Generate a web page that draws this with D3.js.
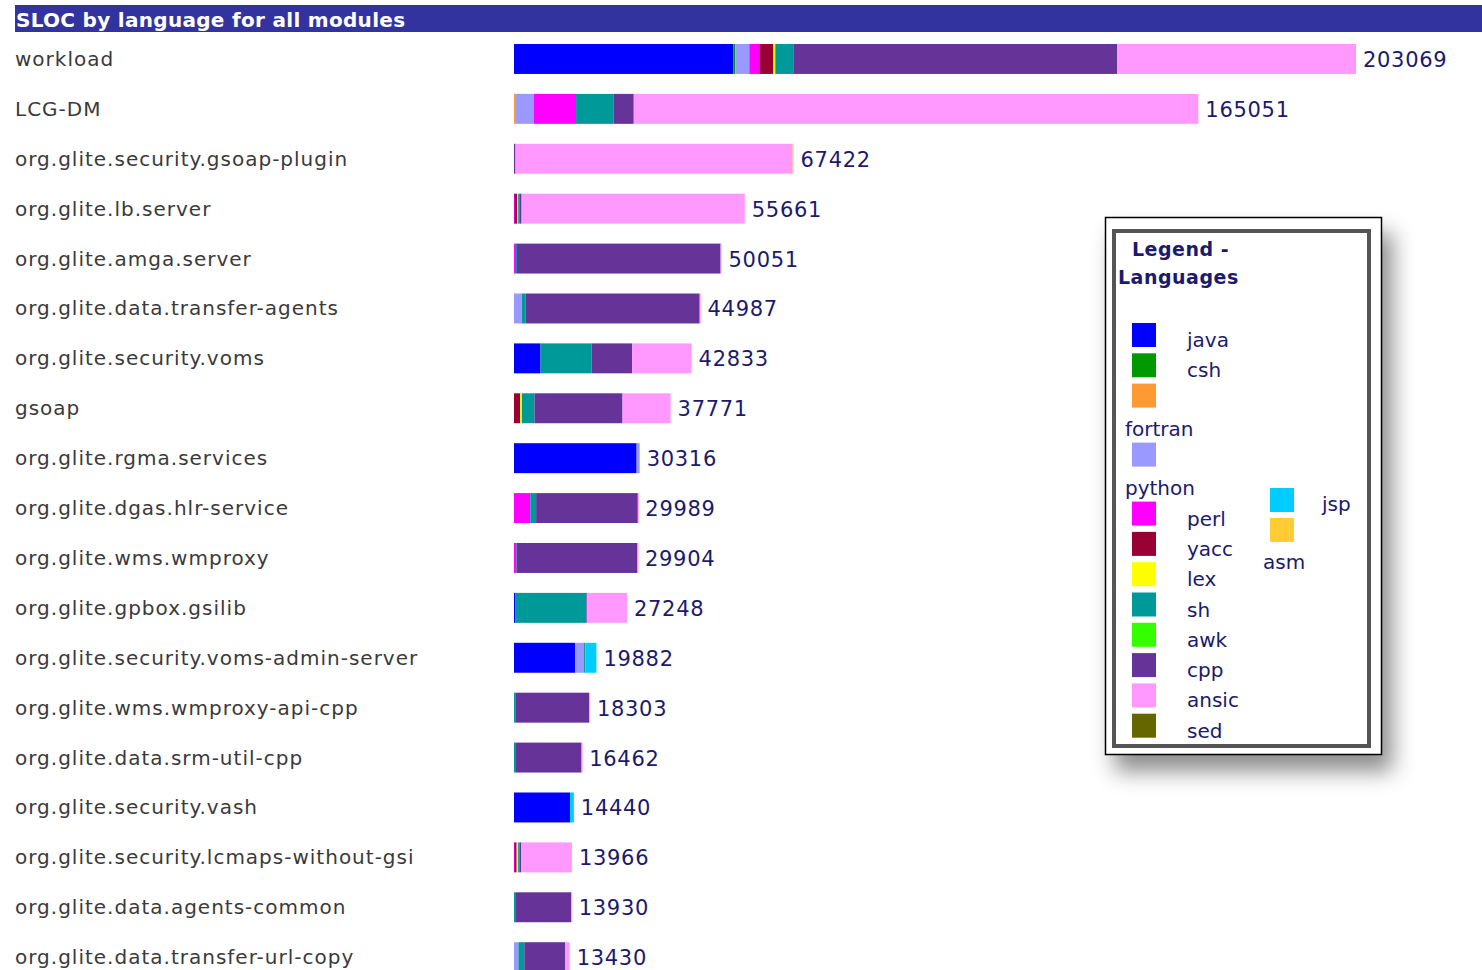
<!DOCTYPE html>
<html>
<head>
<meta charset="utf-8">
<script src="https://cdn.jsdelivr.net/npm/d3@7"></script>
<style>
  body { margin: 0; background: #fff; }
  text { font-family: "DejaVu Sans", Verdana, sans-serif; }
</style>
</head>
<body>
<svg id="chart" width="1482" height="970"></svg>
<script>
var modules = ['workload', 'LCG-DM', 'org.glite.security.gsoap-plugin', 'org.glite.lb.server',
  'org.glite.amga.server', 'org.glite.data.transfer-agents', 'org.glite.security.voms', 'gsoap',
  'org.glite.rgma.services', 'org.glite.dgas.hlr-service', 'org.glite.wms.wmproxy',
  'org.glite.gpbox.gsilib', 'org.glite.security.voms-admin-server', 'org.glite.wms.wmproxy-api-cpp',
  'org.glite.data.srm-util-cpp', 'org.glite.security.vash', 'org.glite.security.lcmaps-without-gsi',
  'org.glite.data.agents-common', 'org.glite.data.transfer-url-copy'];

var languages = ['java', 'csh', 'fortran', 'python', 'perl', 'yacc', 'lex', 'sh', 'awk', 'cpp', 'ansic', 'sed', 'jsp', 'asm'];
var langColors = ['#0000ff', '#009900', '#ff9933', '#9999ff', '#ff00ff', '#990033', '#ffff00',
  '#009999', '#33ff00', '#663399', '#ff99ff', '#666600', '#00ccff', '#ffcc33'];

// SLOC per language, one value per module (same order as modules)
var java    = [52890, 0, 0, 0, 0, 0, 6400, 0, 29577, 0, 0, 366, 14737, 0, 0, 13520, 0, 0, 0];
var csh     = [482, 0, 0, 0, 0, 0, 0, 0, 0, 0, 0, 0, 0, 0, 0, 0, 0, 0, 0];
var fortran = [0, 483, 0, 0, 0, 0, 0, 0, 0, 0, 0, 0, 0, 0, 0, 0, 0, 0, 0];
var python  = [3376, 4343, 0, 0, 0, 1856, 0, 0, 739, 0, 0, 0, 2162, 0, 0, 0, 0, 0, 1070];
var perl    = [2412, 10135, 0, 170, 240, 0, 0, 0, 0, 3933, 245, 0, 0, 0, 0, 0, 160, 0, 0];
var yacc    = [3376, 0, 0, 550, 0, 0, 0, 1481, 0, 0, 0, 0, 0, 0, 0, 0, 480, 0, 0];
var lex     = [482, 0, 0, 290, 0, 0, 0, 420, 0, 0, 0, 0, 0, 0, 0, 0, 360, 0, 0];
var sh      = [4341, 9097, 0, 410, 480, 964, 12310, 3037, 0, 1401, 367, 17073, 323, 320, 490, 0, 400, 480, 1418];
var awk     = [0, 0, 0, 0, 0, 0, 0, 0, 0, 0, 0, 0, 0, 0, 0, 0, 0, 0, 0];
var cpp     = [78067, 4826, 358, 410, 49100, 41967, 9774, 21233, 0, 24530, 29167, 122, 0, 17813, 15802, 0, 360, 13330, 9873];
var ansic   = [57643, 136167, 66825, 53831, 231, 200, 14349, 11600, 0, 125, 125, 9687, 0, 170, 170, 0, 12206, 120, 1069];
var sed     = [0, 0, 0, 0, 0, 0, 0, 0, 0, 0, 0, 0, 0, 0, 0, 0, 0, 0, 0];
var jsp     = [0, 0, 0, 0, 0, 0, 0, 0, 0, 0, 0, 0, 2660, 0, 0, 920, 0, 0, 0];
var asm     = [0, 0, 239, 0, 0, 0, 0, 0, 0, 0, 0, 0, 0, 0, 0, 0, 0, 0, 0];

var series = { java, csh, fortran, python, perl, yacc, lex, sh, awk, cpp, ansic, sed, jsp, asm };

var table = modules.map((m, i) => {
  var row = { module: m };
  languages.forEach(l => { row[l] = series[l][i]; });
  row.total = d3.sum(languages, l => row[l]);
  return row;
});

var svg = d3.select('#chart');

var color = d3.scaleOrdinal().domain(languages).range(langColors);

var x = d3.scaleLinear()
  .domain([0, d3.max(table, d => d.total)])
  .range([514, 1356]);

var y = d3.scaleBand()
  .domain(modules)
  .range([44, 972.14])
  .paddingInner(0.4)
  .paddingOuter(0);

// title bar
svg.append('rect')
  .attr('x', 15).attr('y', 5)
  .attr('width', 1467).attr('height', 27)
  .attr('fill', '#3333a0');
svg.append('text')
  .attr('x', 16).attr('y', 27)
  .attr('fill', '#fff')
  .style('font-weight', 'bold')
  .style('font-size', '20px')
  .style('letter-spacing', '0.3px')
  .text('SLOC by language for all modules');

// module names
svg.append('g').selectAll('text')
  .data(table)
  .enter().append('text')
  .attr('x', 15)
  .attr('y', d => y(d.module) + y.bandwidth() / 2 + 7)
  .attr('fill', '#3a3a3a')
  .style('font-size', '20px')
  .style('letter-spacing', '1px')
  .text(d => d.module);

// stacked bars
var stack = d3.stack().keys(languages);
var layers = svg.append('g').selectAll('g')
  .data(stack(table))
  .enter().append('g')
  .attr('fill', d => color(d.key));

layers.selectAll('rect')
  .data(d => d.filter(s => s[1] > s[0]))
  .enter().append('rect')
  .attr('x', s => x(s[0]))
  .attr('y', s => y(s.data.module))
  .attr('width', s => Math.max(1, x(s[1]) - x(s[0])))
  .attr('height', y.bandwidth());

// totals
svg.append('g').selectAll('text')
  .data(table)
  .enter().append('text')
  .attr('x', d => x(d.total) + 7)
  .attr('y', d => y(d.module) + y.bandwidth() / 2 + 8)
  .attr('fill', '#1a1a6e')
  .style('font-size', '21px')
  .style('letter-spacing', '0.7px')
  .text(d => d.total);

// legend
var defs = svg.append('defs');
var f = defs.append('filter').attr('id', 'shadow')
  .attr('x', '-20%').attr('y', '-20%').attr('width', '150%').attr('height', '150%');
f.append('feDropShadow')
  .attr('dx', 10).attr('dy', 16).attr('stdDeviation', 11)
  .attr('flood-color', '#000').attr('flood-opacity', 0.45);

var lg = svg.append('g');
lg.append('rect')
  .attr('x', 1105.5).attr('y', 217.5).attr('width', 276).attr('height', 537)
  .attr('fill', '#fff').attr('stroke', '#000').attr('stroke-width', 1.5)
  .attr('filter', 'url(#shadow)');
lg.append('rect')
  .attr('x', 1114).attr('y', 231).attr('width', 255).attr('height', 515)
  .attr('fill', '#fff').attr('stroke', '#555').attr('stroke-width', 4);

lg.append('text').attr('x', 1132).attr('y', 256)
  .attr('fill', '#1a1a6e').style('font-weight', 'bold').style('font-size', '19px')
  .style('letter-spacing', '0.5px')
  .text('Legend -');
lg.append('text').attr('x', 1118).attr('y', 284)
  .attr('fill', '#1a1a6e').style('font-weight', 'bold').style('font-size', '19px')
  .style('letter-spacing', '0.5px')
  .text('Languages');

var col2 = ['jsp', 'asm'];
var col1 = languages.filter(l => col2.indexOf(l) < 0);
var wrapped = ['fortran', 'python'];

var cy = 323;
col1.forEach(l => {
  lg.append('rect')
    .attr('x', 1132).attr('y', cy).attr('width', 24).attr('height', 24)
    .attr('fill', color(l));
  if (wrapped.indexOf(l) >= 0) {
    lg.append('text').attr('x', 1125).attr('y', cy + 52)
      .attr('fill', '#1a1a6e').style('font-size', '20px').text(l);
    cy += 59;
  } else {
    lg.append('text').attr('x', 1187).attr('y', cy + 24)
      .attr('fill', '#1a1a6e').style('font-size', '20px').text(l);
    cy += 30.3;
  }
});

// second column: jsp label sits right, asm label wraps below
lg.append('rect').attr('x', 1270).attr('y', 488).attr('width', 24).attr('height', 24)
  .attr('fill', color('jsp'));
lg.append('text').attr('x', 1322).attr('y', 511)
  .attr('fill', '#1a1a6e').style('font-size', '20px').text('jsp');
lg.append('rect').attr('x', 1270).attr('y', 518).attr('width', 24).attr('height', 24)
  .attr('fill', color('asm'));
lg.append('text').attr('x', 1263).attr('y', 569)
  .attr('fill', '#1a1a6e').style('font-size', '20px').text('asm');
</script>
</body>
</html>
